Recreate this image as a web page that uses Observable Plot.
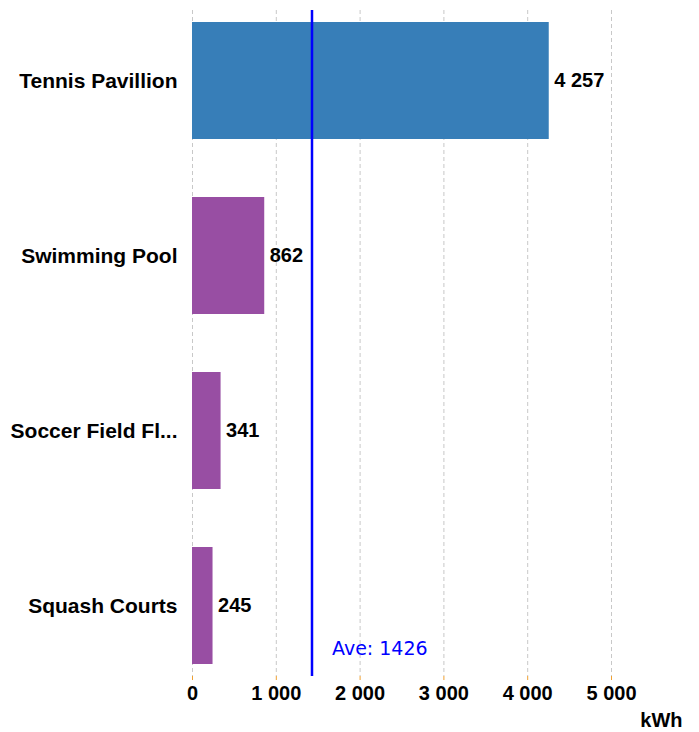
<!DOCTYPE html>
<html>
<head>
<meta charset="utf-8">
<script src="https://cdn.jsdelivr.net/npm/d3@7"></script>
<script src="https://cdn.jsdelivr.net/npm/@observablehq/plot@0.6"></script>
<style>
  body { margin: 0; background: #fff; }
</style>
</head>
<body>
<div id="chart"></div>
<script>
const categories = ["Tennis Pavillion", "Swimming Pool", "Soccer Field Fl...", "Squash Courts"];
const values = [4257, 862, 341, 245];
const colors = ["#377eb8", "#984ea3", "#984ea3", "#984ea3"];
const average = 1426;
const xTicks = [0, 1000, 2000, 3000, 4000, 5000];
const unitLabel = "kWh";
const averageLabel = "Ave: " + average;

const data = categories.map((c, i) => ({category: c, value: values[i], color: colors[i]}));
const fmt = d3.formatLocale({thousands: " ", grouping: [3], decimal: ".", currency: ["", ""]}).format(",");

const chart = Plot.plot({
  width: 699,
  height: 732,
  marginLeft: 192,
  marginRight: 88,
  marginTop: 10,
  marginBottom: 56,
  style: {fontFamily: "'Liberation Sans', Arial, sans-serif", fontSize: "18px", background: "#fff"},
  x: {domain: [0, 5000]},
  y: {domain: categories, paddingInner: 0.33, paddingOuter: 0.063},
  marks: [
    Plot.gridX(xTicks, {stroke: "#c8c8c8", strokeOpacity: 1, strokeDasharray: "4,3"}),
    Plot.barX(data, {x: "value", y: "category", fill: "color"}),
    Plot.ruleX([average], {stroke: "#0000ff", strokeWidth: 2.5}),
    Plot.text(data, {x: "value", y: "category", text: d => fmt(d.value), textAnchor: "start", dx: 5, fontWeight: "bold", fontSize: 20, fill: "#000"}),
    Plot.text([averageLabel], {x: average, frameAnchor: "bottom", text: d => d, textAnchor: "start", dx: 20, dy: -22, fill: "#0000ff", fontSize: 19, fontFamily: "'DejaVu Sans', Verdana, sans-serif"}),
    Plot.axisY({tickSize: 0, tickPadding: 15, fontWeight: "bold", fontSize: 21, label: null, fill: "#000"}),
    Plot.axisX(xTicks, {tickSize: 4, stroke: "#f0a030", tickPadding: 5, tickFormat: fmt, fontWeight: "bold", fontSize: 20, label: null, fill: "#000"}),
    Plot.text([unitLabel], {frameAnchor: "bottom-right", text: d => d, textAnchor: "end", dx: 71, dy: 50, fontWeight: "bold", fontSize: 20, fill: "#000"})
  ]
});
document.getElementById("chart").appendChild(chart);
</script>
</body>
</html>
